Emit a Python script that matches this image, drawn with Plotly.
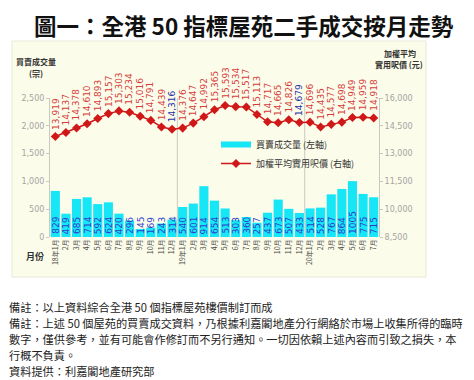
import plotly.graph_objects as go

# ---------------- data ----------------
months = ["18年1月", "2月", "3月", "4月", "5月", "6月", "7月", "8月", "9月", "10月", "11月", "12月",
          "19年1月", "2月", "3月", "4月", "5月", "6月", "7月", "8月", "9月", "10月", "11月", "12月",
          "20年1月", "2月", "3月", "4月", "5月", "6月", "7月"]
volume = [829, 419, 685, 714, 592, 624, 420, 296, 145, 169, 243, 314,
          540, 601, 914, 654, 513, 303, 360, 257, 437, 673, 507, 433,
          514, 528, 767, 864, 1005, 775, 715]
price = [13919, 14137, 14378, 14610, 14893, 15157, 15303, 15234, 15016, 14791, 14439, 14316,
         14376, 14647, 14992, 15365, 15593, 15534, 15517, 15113, 14717, 14665, 14826, 14679,
         14696, 14435, 14577, 14698, 14949, 14959, 14918]
vol_ticks = [0, 500, 1000, 1500, 2000, 2500]
price_ticks = [8500, 10000, 11500, 13000, 14500, 16000]

title = "圖一：全港 50 指標屋苑二手成交按月走勢"
notes = [
    "備註：以上資料綜合全港 50 個指標屋苑樓價制訂而成",
    "備註：上述 50 個屋苑的買賣成交資料，乃根據利嘉閣地產分行網絡於市場上收集所得的臨時",
    "數字，僅供參考，並有可能會作修訂而不另行通知。一切因依賴上述內容而引致之損失，本",
    "行概不負責。",
    "資料提供：利嘉閣地產研究部",
]

# ---------------- layout geometry ----------------
W, H = 474, 380
PL, PR, PT, PB = 42, 371, 90, 229   # plot area in pixels


def px2x(px):
    return (px - PL) / (PR - PL)


def py2y(py):
    return (PB - py) / (PB - PT)


CJK = "Noto Sans CJK TC"
NUM = "DejaVu Sans"
CYAN = "#17E6F6"
RED = "#D01818"
LABEL_RED = "#D53C3C"
LABEL_BLUE = "#1E2FA8"
BAR_BLUE = "#2F3FCC"
GRID = "#C9C9C2"

x = list(range(len(months)))

fig = go.Figure()
fig.add_trace(go.Bar(x=x, y=volume, marker=dict(color=CYAN, line=dict(width=0)),
                     name="買賣成交量 (左軸)", showlegend=False, yaxis="y"))
# legend swatch for the bars (flat bar style)
fig.add_trace(go.Scatter(x=[None], y=[None], mode="lines", line=dict(color=CYAN, width=6),
                         name="買賣成交量 (左軸)", yaxis="y"))
fig.add_trace(go.Scatter(x=x, y=price, mode="lines+markers", yaxis="y2",
                         line=dict(color=RED, width=1.5),
                         marker=dict(symbol="diamond", size=7, color=RED),
                         name="加權平均實用呎價 (右軸)"))

ann = []
# bar value labels
for i, v in enumerate(volume):
    ann.append(dict(x=i, y=0, xref="x", yref="y", text=str(v), showarrow=False,
                    textangle=-90, yanchor="bottom", xanchor="center", yshift=1,
                    font=dict(family=NUM, size=9, color=BAR_BLUE)))
# line value labels
for i, v in enumerate(price):
    col = LABEL_BLUE if months[i].endswith("12月") else LABEL_RED
    ann.append(dict(x=i, y=v, xref="x", yref="y2", text=f"{v:,}", showarrow=False,
                    textangle=-90, yanchor="bottom", xanchor="center", yshift=5,
                    font=dict(family=NUM, size=9, color=col)))

# title
ann.append(dict(x=px2x(236), y=py2y(17), xref="paper", yref="paper", text="<b>" + title + "</b>",
                showarrow=False, xanchor="center", yanchor="middle",
                font=dict(family=CJK, size=22.5, color="#111111")))
# axis titles
for txt, px, py, sz in [("<b>買賣成交量</b>", 28, 53, 8), ("<b>(宗)</b>", 28, 65, 8),
                        ("<b>加權平均</b>", 392, 45, 8), ("<b>實用呎價 (元)</b>", 391, 57, 8),
                        ("<b>月份</b>", 27, 248, 9)]:
    ann.append(dict(x=px2x(px), y=py2y(py), xref="paper", yref="paper", text=txt,
                    showarrow=False, xanchor="center", yanchor="middle",
                    font=dict(family=CJK, size=sz, color="#333333")))
# notes
for k, (txt, py) in enumerate(zip(notes, [299, 315, 331, 347, 363])):
    ann.append(dict(x=px2x(0), y=py2y(py), xref="paper", yref="paper", text=txt,
                    showarrow=False, xanchor="left", yanchor="middle", borderpad=0,
                    font=dict(family=CJK, size=11.2, color="#222222")))

shapes = [
    dict(type="rect", xref="paper", yref="paper", x0=px2x(4), x1=px2x(418),
         y0=py2y(269), y1=py2y(33), fillcolor="#FCFCEA", line=dict(color="#E8E8D8", width=1),
         layer="below"),
]
for xb in [11.5, 23.5]:
    shapes.append(dict(type="line", xref="x", yref="paper", x0=xb, x1=xb, y0=0, y1=1,
                       line=dict(color=GRID, width=1), layer="below"))

fig.update_layout(
    width=W, height=H, autosize=False,
    margin=dict(l=PL, r=W - PR, t=PT, b=H - PB, pad=0),
    paper_bgcolor="white", plot_bgcolor="rgba(0,0,0,0)",
    bargap=0.14,
    showlegend=True,
    legend=dict(x=px2x(208), y=py2y(122), xanchor="left", yanchor="top",
                bgcolor="rgba(0,0,0,0)", font=dict(family=CJK, size=9, color="#333333"),
                itemwidth=30, tracegroupgap=0),
    xaxis=dict(range=[-0.5, len(months) - 0.5], tickmode="array", tickvals=x, ticktext=months,
               tickangle=-90, tickfont=dict(family=CJK, size=7, color="#444444"),
               showgrid=False, zeroline=False, showline=False, ticks=""),
    yaxis=dict(range=[0, 2500], tickmode="array", tickvals=vol_ticks, tickformat=",",
               showgrid=False, zeroline=False, showline=True, linecolor=GRID, linewidth=1,
               ticks="outside", ticklen=3, tickcolor=GRID,
               tickfont=dict(family=NUM, size=8, color="#A4A4A4")),
    yaxis2=dict(range=[8500, 16000], tickmode="array", tickvals=price_ticks, tickformat=",",
                overlaying="y", side="right", showgrid=False, zeroline=False,
                showline=True, linecolor=GRID, linewidth=1,
                ticks="outside", ticklen=3, tickcolor=GRID,
                tickfont=dict(family=NUM, size=8, color="#A4A4A4")),
    annotations=ann,
    shapes=shapes,
)

fig.write_html("out.html")
